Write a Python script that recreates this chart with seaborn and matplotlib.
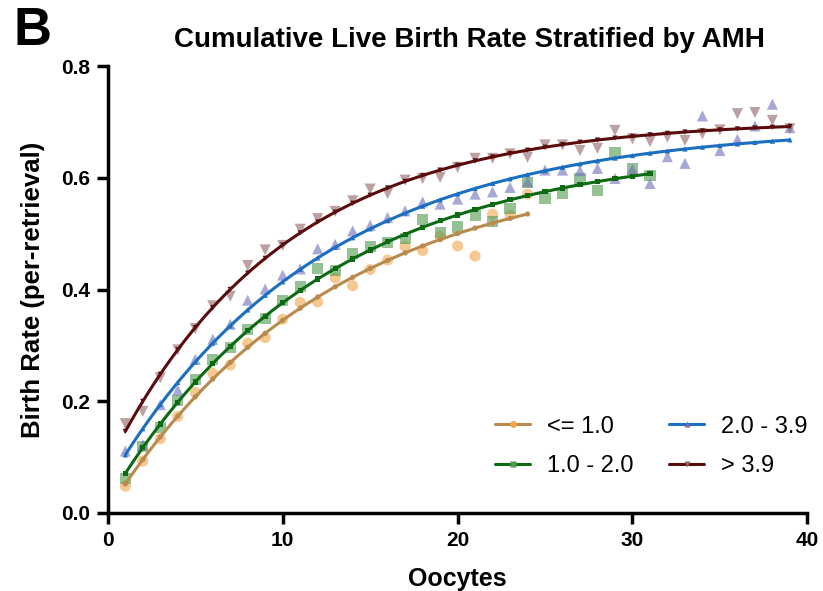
import numpy as np
import pandas as pd
import matplotlib
matplotlib.use("Agg")
import matplotlib.pyplot as plt
from matplotlib.lines import Line2D
import seaborn as sns

# ---- data ----
labels = ["<= 1.0", "1.0 - 2.0", "2.0 - 3.9", "> 3.9"]

amh_low = [0.048, 0.093, 0.133, 0.173, 0.216, 0.250, 0.265, 0.304, 0.314, 0.347,
           0.377, 0.378, 0.421, 0.407, 0.436, 0.453, 0.477, 0.470, 0.495, 0.478,
           0.460, 0.535, 0.533, 0.571]
amh_mid = [0.062, 0.119, 0.153, 0.201, 0.239, 0.275, 0.296, 0.329, 0.349, 0.380,
           0.406, 0.437, 0.434, 0.465, 0.477, 0.484, 0.491, 0.526, 0.502, 0.512,
           0.533, 0.522, 0.545, 0.592, 0.563, 0.572, 0.598, 0.578, 0.646, 0.616,
           0.605]
amh_high = [0.111, 0.122, 0.194, 0.220, 0.275, 0.311, 0.338, 0.381, 0.401, 0.426,
            0.437, 0.473, 0.481, 0.505, 0.515, 0.529, 0.541, 0.557, 0.553, 0.562,
            0.571, 0.575, 0.583, 0.593, 0.614, 0.614, 0.613, 0.617, 0.599, 0.616,
            0.590, 0.638, 0.626, 0.711, 0.649, 0.669, 0.693, 0.732, 0.690]
amh_vhigh = [0.160, 0.182, 0.242, 0.292, 0.330, 0.371, 0.388, 0.443, 0.471, 0.479,
             0.508, 0.527, 0.540, 0.559, 0.580, 0.572, 0.596, 0.599, 0.601, 0.619,
             0.635, 0.635, 0.643, 0.637, 0.659, 0.659, 0.649, 0.653, 0.685, 0.670,
             0.665, 0.673, 0.667, 0.679, 0.686, 0.715, 0.717, 0.703, 0.688]
series_values = [amh_low, amh_mid, amh_high, amh_vhigh]

x_ticks = [0, 10, 20, 30, 40]
y_ticks = [0.0, 0.2, 0.4, 0.6, 0.8]

# ---- styles ----
point_colors = ["#F2A64A", "#4E9A4E", "#6E6EBB", "#8E6262"]
line_colors = ["#B98A4E", "#0C6B12", "#1B6EC0", "#5A0C0C"]
point_markers = ["o", "s", "^", "v"]

rows = []
for lab, vals in zip(labels, series_values):
    for i, v in enumerate(vals):
        rows.append({"Oocytes": i + 1, "Rate": v, "AMH": lab})
df = pd.DataFrame(rows)


def fit_exp(x, y):
    """One-phase association fit y = a - b*exp(-k x) by least squares."""
    best = None
    for k in np.linspace(0.005, 0.6, 3000):
        E = np.exp(-k * x)
        A = np.column_stack([np.ones_like(x), -E])
        coef, *_ = np.linalg.lstsq(A, y, rcond=None)
        sse = np.sum((A @ coef - y) ** 2)
        if best is None or sse < best[0]:
            best = (sse, coef[0], coef[1], k)
    return best[1:]


curve_rows = []
mark_rows = []
for lab, vals in zip(labels, series_values):
    x = np.arange(1, len(vals) + 1, dtype=float)
    y = np.array(vals)
    a, b, k = fit_exp(x, y)
    xf = np.linspace(1, len(vals), 300)
    for xv in xf:
        curve_rows.append({"Oocytes": xv, "Rate": a - b * np.exp(-k * xv), "AMH": lab})
    for xv in x:
        mark_rows.append({"Oocytes": xv, "Rate": a - b * np.exp(-k * xv), "AMH": lab})
curves = pd.DataFrame(curve_rows)
marks = pd.DataFrame(mark_rows)

sns.set_style("ticks")
plt.rcParams["font.family"] = ["Liberation Sans", "DejaVu Sans"]
for key in ["text.color", "axes.labelcolor", "xtick.color", "ytick.color",
            "axes.edgecolor"]:
    plt.rcParams[key] = "black"

fig = plt.figure(figsize=(8.23, 5.91), dpi=100)
ax = fig.add_axes([0.131, 0.132, 0.850, 0.756])

for lab, pc, m in zip(labels, point_colors, point_markers):
    sub = df[df["AMH"] == lab]
    sns.scatterplot(data=sub, x="Oocytes", y="Rate", color=pc, marker=m, s=64,
                    alpha=0.6, edgecolor="none", ax=ax, legend=False, zorder=2)

for lab, lc, m in zip(labels, line_colors, point_markers):
    sub = curves[curves["AMH"] == lab]
    sns.lineplot(data=sub, x="Oocytes", y="Rate", color=lc, linewidth=2.2,
                 ax=ax, legend=False, zorder=3, estimator=None)
    subm = marks[marks["AMH"] == lab]
    sns.scatterplot(data=subm, x="Oocytes", y="Rate", color=lc, marker=m, s=14,
                    edgecolor="none", ax=ax, legend=False, zorder=4)

ax.set_xlim(0, 40)
ax.set_ylim(0, 0.8)
ax.set_xticks(x_ticks)
ax.set_yticks(y_ticks)
ax.set_yticklabels([f"{v:.1f}" for v in y_ticks])
ax.set_xticklabels([str(v) for v in x_ticks])

for s in ["top", "right"]:
    ax.spines[s].set_visible(False)
for s in ["left", "bottom"]:
    ax.spines[s].set_linewidth(2.5)
    ax.spines[s].set_color("black")
ax.tick_params(axis="both", width=2.5, length=8, labelsize=15, direction="out",
               pad=5)
for t in ax.get_xticklabels() + ax.get_yticklabels():
    t.set_fontweight("bold")

ax.set_xlabel("Oocytes", fontsize=18, fontweight="bold", labelpad=12)
ax.set_ylabel("Birth Rate (per-retrieval)", fontsize=18.5, fontweight="bold",
              labelpad=11)

fig.text(0.571, 0.932, "Cumulative Live Birth Rate Stratified by AMH",
         ha="center", va="center", fontsize=20, fontweight="bold")
fig.text(0.016, 0.948, "B", ha="left", va="center", fontsize=38, fontweight="bold")

handles = [Line2D([0], [0], color=lc, marker=m, markersize=5, linewidth=2.2,
                  markerfacecolor=pc, markeredgecolor="none")
           for lc, pc, m in zip(line_colors, point_colors, point_markers)]
ax.legend(handles, labels, ncol=2, frameon=False, loc="lower right",
          bbox_to_anchor=(1.0, 0.08), fontsize=17, handlelength=1.5,
          columnspacing=1.5, handletextpad=0.7, labelspacing=0.75,
          borderpad=0, borderaxespad=0)

fig.savefig("out.png", dpi=100)
